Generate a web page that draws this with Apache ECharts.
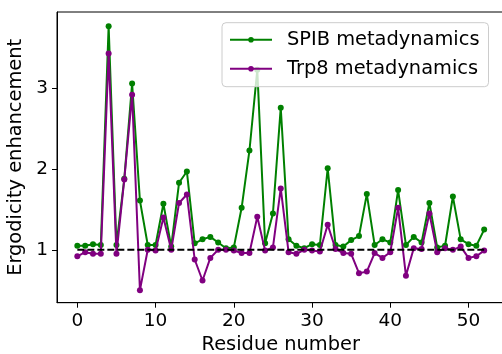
<!DOCTYPE html>
<html>
<head>
<meta charset="utf-8">
<script src="https://cdn.jsdelivr.net/npm/echarts@6/dist/echarts.min.js"></script>
<style>html,body{margin:0;padding:0;background:#fff;}#c{width:502px;height:354px;}</style>
</head>
<body>
<div id="c"></div>
<script>
const residues = [0,1,2,3,4,5,6,7,8,9,10,11,12,13,14,15,16,17,18,19,20,21,22,23,24,25,26,27,28,29,30,31,32,33,34,35,36,37,38,39,40,41,42,43,44,45,46,47,48,49,50,51,52];
const spib = [1.05,1.05,1.07,1.06,3.77,1.06,1.88,3.06,1.61,1.06,1.06,1.57,1.04,1.83,1.97,1.08,1.13,1.16,1.09,1.02,1.03,1.52,2.23,3.23,1.08,1.45,2.76,1.13,1.05,1.02,1.07,1.06,2.01,1.06,1.04,1.12,1.17,1.69,1.06,1.13,1.09,1.74,1.06,1.16,1.09,1.58,1.03,1.05,1.66,1.13,1.07,1.05,1.25];
const trp8 = [0.92,0.97,0.95,0.95,3.43,0.95,1.87,2.92,0.50,1.0,0.99,1.40,1.0,1.58,1.685,0.88,0.62,0.90,1.0,1.0,0.99,0.96,0.96,1.41,0.99,1.03,1.76,0.97,0.95,1.0,0.99,0.98,1.31,1.01,0.96,0.95,0.71,0.73,0.96,0.90,0.97,1.52,0.68,1.02,1.01,1.45,0.97,1.02,1.0,1.04,0.90,0.92,0.99];
const refLine = [[0,1],[52,1]];
const xTicks = [0,10,20,30,40,50];
const yTicks = [1,2,3];
const seriesNames = ['SPIB metadynamics','Trp8 metadynamics'];

const font = 'DejaVu Sans';
const chart = echarts.init(document.getElementById('c'), null, {renderer:'canvas'});
chart.setOption({
  animation:false,
  backgroundColor:'#fff',
  grid:{left:57, top:12, width:447.5, height:290.7, show:true, borderColor:'#000', borderWidth:1,
    backgroundColor:'transparent', containLabel:false, outerBoundsMode:'none'},
  xAxis:{type:'value', min:-2.6, max:54.6, interval:10,
    name:'Residue number', nameLocation:'middle', nameGap:24,
    nameTextStyle:{fontFamily:font, fontSize:19.4, color:'#000'},
    axisLine:{show:true, onZero:false, lineStyle:{color:'#000', width:1}},
    axisTick:{show:true, length:5, lineStyle:{color:'#000'}, customValues:xTicks},
    axisLabel:{fontFamily:font, fontSize:18.5, color:'#000', margin:9, customValues:xTicks},
    splitLine:{show:false}},
  yAxis:{type:'value', min:0.345, max:3.945,
    name:'Ergodicity enhancement', nameLocation:'middle', nameGap:28,
    nameTextStyle:{fontFamily:font, fontSize:19.4, color:'#000'},
    axisLine:{show:true, onZero:false, lineStyle:{color:'#000', width:1}},
    axisTick:{show:true, length:5, lineStyle:{color:'#000'}, customValues:yTicks},
    axisLabel:{fontFamily:font, fontSize:18.5, color:'#000', margin:9, customValues:yTicks},
    splitLine:{show:false}},
  legend:{orient:'vertical', left:222, top:22.7, data:seriesNames,
    backgroundColor:'rgba(255,255,255,0.8)', borderColor:'#ccc', borderWidth:1, borderRadius:4,
    padding:[7,9,8,7], itemWidth:42, itemHeight:7, itemGap:9,
    textStyle:{fontFamily:font, fontSize:19.4, color:'#000', lineHeight:20, padding:[0,0,0,10]}},
  series:[
    {name:seriesNames[0], type:'line', data:residues.map((r,i)=>[r,spib[i]]),
     color:'#008000', symbol:'circle', symbolSize:6, lineStyle:{width:2}, z:2},
    {name:seriesNames[1], type:'line', data:residues.map((r,i)=>[r,trp8[i]]),
     color:'#800080', symbol:'circle', symbolSize:6, lineStyle:{width:2}, z:3},
    {name:'ref', type:'line', data:refLine, symbol:'none', color:'#000',
     lineStyle:{width:2, type:[7,3], color:'#000'}, z:4}
  ]
});
</script>
</body>
</html>
